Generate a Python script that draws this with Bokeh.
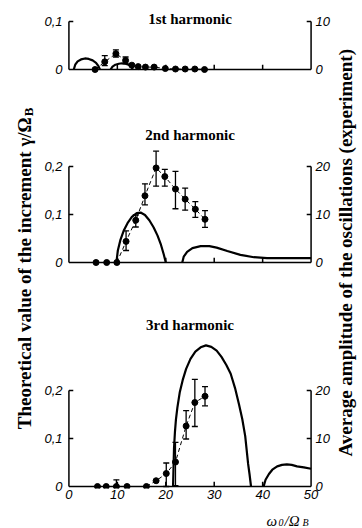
import math
from bokeh.plotting import figure
from bokeh.layouts import row, column
from bokeh.models import Range1d, LinearAxis, FixedTicker, CustomJSTickFormatter, Label
from bokeh.embed import file_html
from bokeh.resources import INLINE

# ---------------- data ----------------
# x axis: omega_0 / Omega_B
x_ticks = [0, 10, 20, 30, 40, 50]
x_tick_labels = ["0", "10", "20", "30", "40", "50"]

# 1st harmonic: theory (gamma/Omega_B)
h1_th_a_x = [1.0, 1.3, 1.8, 2.5, 3.3, 4.1, 4.9, 5.6, 6.1, 6.4]
h1_th_a_y = [0.0, 0.010, 0.017, 0.021, 0.023, 0.022, 0.019, 0.014, 0.007, 0.0]
h1_th_b_x = [8.6, 9.0, 9.6, 10.3, 11.0, 11.7, 12.3, 12.8, 13.2]
h1_th_b_y = [0.0, 0.006, 0.010, 0.012, 0.013, 0.012, 0.010, 0.006, 0.0]
# 1st harmonic: experiment (amplitude)
h1_exp_x = [5.4, 7.4, 9.7, 11.7, 13.0, 14.3, 15.8, 17.6, 19.9, 22.0, 24.0, 26.0, 28.0]
h1_exp_a = [0.0, 1.6, 3.3, 1.9, 0.9, 0.6, 0.5, 0.5, 0.2, 0.1, 0.1, 0.1, 0.0]
h1_err_x = [7.4, 9.7, 11.7]
h1_err_lo = [0.8, 2.6, 1.2]
h1_err_hi = [2.9, 4.1, 2.6]

# 2nd harmonic: theory
h2_th_a_x = [9.8, 10.1, 10.6, 11.3, 12.1, 13.0, 14.0, 14.8, 15.7, 16.6, 17.5, 18.3, 19.0, 19.6, 20.0]
h2_th_a_y = [0.0, 0.025, 0.046, 0.066, 0.082, 0.095, 0.103, 0.104, 0.099, 0.088, 0.073, 0.056, 0.037, 0.016, 0.0]
h2_th_b_x = [23.4, 23.7, 24.4, 25.5, 27.2, 29.0, 30.5, 32.7, 35.4, 38.2, 40.9, 44.0, 47.0, 50.0]
h2_th_b_y = [0.0, 0.012, 0.022, 0.030, 0.034, 0.034, 0.031, 0.024, 0.016, 0.011, 0.009, 0.009, 0.009, 0.009]
# 2nd harmonic: experiment
h2_exp_x = [5.6, 7.8, 9.9, 11.8, 13.8, 15.7, 18.0, 19.8, 22.0, 24.0, 26.1, 28.1]
h2_exp_a = [0.0, 0.0, 0.0, 4.4, 8.8, 13.9, 19.7, 17.9, 15.3, 13.2, 11.1, 9.0]
h2_err_x = [11.8, 13.8, 15.7, 18.0, 19.8, 22.0, 24.0, 26.1, 28.1]
h2_err_lo = [2.5, 7.4, 12.0, 15.9, 15.9, 11.2, 10.9, 9.4, 7.3]
h2_err_hi = [6.6, 9.9, 16.4, 23.2, 19.4, 19.0, 15.5, 12.7, 10.8]

# 3rd harmonic: theory
h3_th_a_x = [21.5, 21.6, 21.7, 21.9, 22.1, 22.4, 22.9, 23.5, 24.2, 25.1, 26.1, 27.2, 28.3, 29.4,
             30.5, 31.5, 32.5, 33.4, 34.3, 35.1, 35.8, 36.4, 37.0, 37.3, 37.6]
h3_th_a_y = [0.0, 0.04, 0.08, 0.115, 0.14, 0.165, 0.197, 0.222, 0.245, 0.266, 0.281, 0.290, 0.294, 0.291,
             0.283, 0.270, 0.253, 0.235, 0.205, 0.172, 0.140, 0.105, 0.047, 0.025, 0.0]
h3_th_b_x = [40.2, 40.6, 41.3, 42.0, 43.0, 44.0, 45.0, 46.0, 47.1, 48.5, 50.0]
h3_th_b_y = [0.0, 0.014, 0.026, 0.035, 0.042, 0.045, 0.046, 0.045, 0.042, 0.040, 0.037]
# 3rd harmonic: experiment
h3_exp_x = [5.9, 7.7, 9.8, 12.0, 16.0, 18.0, 20.1, 22.0, 24.2, 26.0, 28.1]
h3_exp_a = [0.0, 0.0, 0.0, 0.0, 0.0, 1.2, 2.7, 5.1, 12.6, 17.5, 18.8]
h3_err_x = [9.8, 20.1, 22.0, 24.2, 26.0, 28.1]
h3_err_lo = [0.0, 0.0, 0.2, 9.9, 12.5, 16.8]
h3_err_hi = [1.4, 4.9, 9.2, 15.8, 22.3, 20.8]

# axis ticks per panel
theory_ticks = {1: [0.0, 0.1], 2: [0.0, 0.1, 0.2], 3: [0.0, 0.1, 0.2]}
theory_tick_labels = {1: ["0", "0,1"], 2: ["0", "0,1", "0,2"], 3: ["0", "0,1", "0,2"]}
amp_tick_labels = {1: ["0", "10"], 2: ["0", "10", "20"], 3: ["0", "10", "20"]}
titles = {1: "1st harmonic", 2: "2nd harmonic", 3: "3rd harmonic"}
left_title = "Theoretical value of the increment \u03b3/\u03a9"
left_title_sub = "B"
right_title = "Average amplitude of the oscillations (experiment)"
x_title_parts = ["\u03c9", "0", "/\u03a9", "B"]
AMP_PER_THEORY = 100.0  # 0.1 on the left axis <-> 10 on the right axis

# ---------------- layout (page pixels) ----------------
W, H = 362, 528
LEFT_W = 36          # strip holding the left title
RIGHT_W = 30         # strip holding the right title
BOTTOM_H = 23        # strip holding the x title
MAIN_W = W - LEFT_W - RIGHT_W
MAIN_H = H - BOTTOM_H
FRAME_L, FRAME_R, FRAME_T = 66, 313, 6     # page pixels of the main frame
X_MIN, X_MAX, X_PAD = 0.0, 50.0, 0.5
PX_Y = 480.0                       # pixels per unit of gamma/Omega_B
BASE = {1: 69, 2: 262, 3: 486}     # page pixel row of the zero line of each panel
TITLE_PX = {1: 18, 2: 134, 3: 324}

MB_L = FRAME_L - LEFT_W
MB_R = (LEFT_W + MAIN_W) - FRAME_R
MB_T = FRAME_T
MB_B = 17
frame_bottom = MAIN_H - MB_B
y_start = -(frame_bottom - BASE[3]) / PX_Y
y_end = (BASE[3] - MB_T) / PX_Y
offset = {k: (BASE[3] - BASE[k]) / PX_Y for k in BASE}


def Y(px):
    return (BASE[3] - px) / PX_Y


p = figure(width=MAIN_W, height=MAIN_H, title=None,
           x_range=Range1d(X_MIN - X_PAD, X_MAX + X_PAD),
           y_range=Range1d(y_start, y_end),
           min_border_left=MB_L, min_border_right=MB_R,
           min_border_top=MB_T, min_border_bottom=MB_B,
           toolbar_location=None, output_backend="svg")
p.outline_line_color = None
p.xgrid.visible = False
p.ygrid.visible = False
p.background_fill_color = "white"
p.border_fill_color = "white"

for k in (1, 2):
    o = offset[k]
    p.extra_y_ranges[f"t{k}"] = Range1d(y_start - o, y_end - o)
    p.extra_y_ranges[f"a{k}"] = Range1d((y_start - o) * AMP_PER_THEORY, (y_end - o) * AMP_PER_THEORY)
p.extra_y_ranges["a3"] = Range1d(y_start * AMP_PER_THEORY, y_end * AMP_PER_THEORY)
trange = {1: "t1", 2: "t2", 3: "default"}
arange = {1: "a1", 2: "a2", 3: "a3"}

# ---------------- axes (labels only; frame lines are drawn per panel) ----------------
tick_pos, left_lab, right_lab = [], [], []
for k in (1, 2, 3):
    for v, ll, rl in zip(theory_ticks[k], theory_tick_labels[k], amp_tick_labels[k]):
        tick_pos.append(round(v + offset[k], 6))
        left_lab.append(ll)
        right_lab.append(rl)

fmt_code = """
let best = 0; let d = Infinity;
for (let i = 0; i < tv.length; i++) { const e = Math.abs(tv[i] - tick); if (e < d) { d = e; best = i; } }
return tl[best];
"""

TICK_FONT = "Liberation Sans"
SERIF = "Liberation Serif"


def style_axis(ax):
    ax.axis_line_color = None
    ax.major_tick_in = 0
    ax.major_tick_out = 0
    ax.minor_tick_in = 0
    ax.minor_tick_out = 0
    ax.major_label_text_font = TICK_FONT
    ax.major_label_text_font_style = "italic"
    ax.major_label_text_font_size = "13px"
    ax.major_label_text_color = "black"


ly = p.yaxis[0]
ly.ticker = FixedTicker(ticks=tick_pos)
ly.formatter = CustomJSTickFormatter(args=dict(tv=tick_pos, tl=left_lab), code=fmt_code)
style_axis(ly)
ly.major_label_standoff = 4

ry = LinearAxis(ticker=FixedTicker(ticks=tick_pos),
                formatter=CustomJSTickFormatter(args=dict(tv=tick_pos, tl=right_lab), code=fmt_code))
style_axis(ry)
ry.major_label_standoff = 2
p.add_layout(ry, "right")

bx = p.xaxis[0]
bx.ticker = FixedTicker(ticks=x_ticks)
bx.formatter = CustomJSTickFormatter(args=dict(tv=x_ticks, tl=x_tick_labels), code=fmt_code)
style_axis(bx)
bx.major_label_standoff = 1

# ---------------- panel frames ----------------
HT = 0.9    # horizontal tick length (x units)
VT = 0.01   # vertical tick length (theory units)
for k in (1, 2, 3):
    top = max(theory_ticks[k])
    x0s = [X_MIN, X_MAX, X_MIN]
    y0s = [0.0, 0.0, 0.0]
    x1s = [X_MIN, X_MAX, X_MAX]
    y1s = [top, top, 0.0]
    for v in theory_ticks[k][1:]:
        x0s += [X_MIN, X_MAX]
        x1s += [X_MIN + HT, X_MAX - HT]
        y0s += [v, v]
        y1s += [v, v]
    for xt in x_ticks[1:-1]:
        x0s.append(xt)
        x1s.append(xt)
        y0s.append(0.0)
        y1s.append(VT)
    p.segment(x0=x0s, y0=y0s, x1=x1s, y1=y1s, line_color="black", line_width=1.5,
              y_range_name=trange[k])

# ---------------- data ----------------
theory = {1: [(h1_th_a_x, h1_th_a_y), (h1_th_b_x, h1_th_b_y)],
          2: [(h2_th_a_x, h2_th_a_y), (h2_th_b_x, h2_th_b_y)],
          3: [(h3_th_a_x, h3_th_a_y), (h3_th_b_x, h3_th_b_y)]}
exper = {1: (h1_exp_x, h1_exp_a, h1_err_x, h1_err_lo, h1_err_hi),
         2: (h2_exp_x, h2_exp_a, h2_err_x, h2_err_lo, h2_err_hi),
         3: (h3_exp_x, h3_exp_a, h3_err_x, h3_err_lo, h3_err_hi)}

for k in (1, 2, 3):
    for xs, ys in theory[k]:
        p.line(xs, ys, line_color="black", line_width=2.2, y_range_name=trange[k])
    ex, ea, erx, elo, ehi = exper[k]
    p.line(ex, ea, line_color="black", line_width=1, line_dash="4 3", y_range_name=arange[k])
    p.segment(x0=erx, y0=elo, x1=erx, y1=ehi, line_color="black", line_width=1.3,
              y_range_name=arange[k])
    p.scatter(erx + erx, elo + ehi, marker="dash", size=6, line_color="black", line_width=1.3,
              y_range_name=arange[k])
    p.scatter(ex, ea, marker="circle", size=6, fill_color="black", line_color="black",
              y_range_name=arange[k])

for k in (1, 2, 3):
    p.add_layout(Label(x=(X_MIN + X_MAX) / 2, y=Y(TITLE_PX[k]), text=titles[k],
                       text_font=SERIF, text_font_style="bold", text_font_size="15px",
                       text_align="center", text_baseline="middle", text_color="black"))


# ---------------- text strips (outer titles) ----------------
def strip(w, h):
    f = figure(width=w, height=h, title=None, x_range=Range1d(0, w), y_range=Range1d(0, h),
               x_axis_location=None, y_axis_location=None, min_border=0,
               toolbar_location=None, output_backend="svg")
    f.outline_line_color = None
    f.xgrid.visible = False
    f.ygrid.visible = False
    f.background_fill_color = "white"
    f.border_fill_color = "white"
    return f


# left strip: page x 0..LEFT_W, page y 0..MAIN_H
pl = strip(LEFT_W, MAIN_H)
pl.add_layout(Label(x=24, y=MAIN_H - 116, angle=math.pi / 2, text=left_title,
                    text_font=SERIF, text_font_style="bold", text_font_size="19px",
                    text_align="right", text_baseline="alphabetic", text_color="black"))
pl.add_layout(Label(x=28, y=MAIN_H - 115, angle=math.pi / 2, text=left_title_sub,
                    text_font=SERIF, text_font_style="bold", text_font_size="13px",
                    text_align="left", text_baseline="alphabetic", text_color="black"))

# right strip: page x (W-RIGHT_W)..W
pr = strip(RIGHT_W, MAIN_H)
pr.add_layout(Label(x=345 - (W - RIGHT_W), y=MAIN_H - 258, angle=math.pi / 2, text=right_title,
                    text_font=SERIF, text_font_style="bold", text_font_size="19px",
                    text_align="center", text_baseline="middle", text_color="black"))

# bottom strip: page y MAIN_H..H
pb = strip(W, BOTTOM_H)
for txt, px, py, fs in zip(x_title_parts, [266, 278, 284, 302], [520, 522, 520, 522],
                           ["15px", "10px", "15px", "10px"]):
    pb.add_layout(Label(x=px, y=H - py, text=txt, text_font=SERIF, text_font_style="italic",
                        text_font_size=fs, text_align="left", text_baseline="alphabetic",
                        text_color="black"))

layout = column(row(pl, p, pr, spacing=0), pb, spacing=0)
open("out.html", "w").write(file_html(layout, INLINE))
